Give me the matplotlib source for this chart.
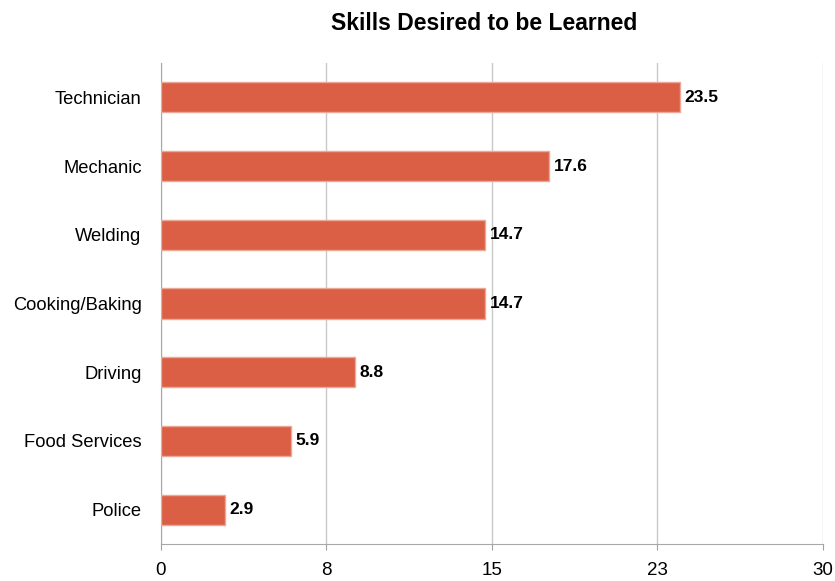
import numpy as np
from matplotlib import pyplot as plt

# data
skills = ["Technician", "Mechanic", "Welding", "Cooking/Baking", "Driving", "Food Services", "Police"]
percent = [23.5, 17.6, 14.7, 14.7, 8.8, 5.9, 2.9]
tick_vals = [0, 7.5, 15, 22.5, 30]
tick_labels = ["0", "8", "15", "23", "30"]

plt.rcParams['font.family'] = ['Liberation Sans', 'DejaVu Sans']

fig = plt.figure(figsize=(8.35, 5.81), dpi=100)
ax = fig.add_axes([0.1928, 0.0637, 0.7928, 0.8279])

y = np.arange(len(skills))
ax.barh(y, percent, height=0.44, color="#DA5F45", edgecolor="#EBA898", linewidth=1.0, zorder=3)

for yi, v in zip(y, percent):
    ax.text(v + 0.2, yi, f"{v:.1f}", va="center", ha="left", fontsize=12.5,
            fontweight="bold", zorder=4)

ax.set_ylim(len(skills) - 0.5, -0.5)
ax.set_xlim(0, 30)
ax.set_yticks(y)
ax.set_yticklabels(skills, fontsize=13.2)
ax.set_xticks(tick_vals)
ax.set_xticklabels(tick_labels, fontsize=13.5)

ax.tick_params(axis="y", length=0, pad=14)
ax.tick_params(axis="x", length=4, direction="out", color="#A0A0A0", pad=9)

ax.grid(axis="x", color="#C8C8C8", linewidth=1.0, zorder=0)
ax.set_axisbelow(True)
for s in ["top", "right"]:
    ax.spines[s].set_visible(False)
ax.spines["left"].set_color("#A8A8A8")
ax.spines["bottom"].set_color("#A8A8A8")

fig.suptitle("Skills Desired to be Learned", x=0.58, y=0.98, fontsize=16.5, fontweight="bold")

plt.savefig("out.png", dpi=100)
